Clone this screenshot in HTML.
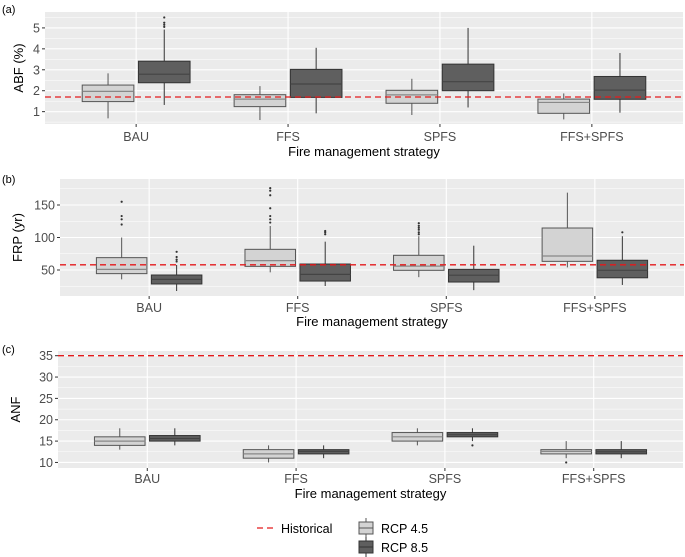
<!DOCTYPE html>
<html><head><meta charset="utf-8"><style>
html,body{margin:0;padding:0;background:#fff;}
svg{display:block;font-family:"Liberation Sans",sans-serif;}
</style></head><body>
<svg id="chart" width="685" height="557" viewBox="0 0 685 557" xmlns="http://www.w3.org/2000/svg"></svg>
<script>
const categories = ["BAU","FFS","SPFS","FFS+SPFS"];
const scenarios = ["RCP 4.5","RCP 8.5"];
// [low whisker, q1, median, q3, high whisker] per category, per scenario
const abf45 = [[0.68,1.48,1.97,2.27,2.83],[0.6,1.24,1.6,1.81,2.22],[0.84,1.4,1.8,2.02,2.57],[0.63,0.92,1.44,1.6,1.87]];
const abf85 = [[1.32,2.38,2.79,3.41,4.92],[0.92,1.68,2.32,3.02,4.05],[1.2,2.0,2.43,3.27,5.0],[0.95,1.59,2.03,2.68,3.8]];
const abfOut45 = [[],[],[],[]];
const abfOut85 = [[5.05,5.15,5.25,5.5],[],[],[]];
const abfHist = 1.7;
const abfTicks = [1,2,3,4,5];
const frp45 = [[35.6,44.4,51,69,100],[46.4,55.6,64.4,81.8,117.7],[39,49.5,56,72.6,102],[54,63.3,71.5,114.6,169]];
const frp85 = [[17.7,28.5,35.6,42.3,57.7],[25.4,33,43.3,59.2,93.6],[19,31.5,42,51,87.4],[27,38,49.5,65,102]];
const frpOut45 = [[120,128,133,155],[123,128,133,145,165,172,176],[105,108,112,115,118,122],[]];
const frpOut85 = [[63,66,70,78],[105,108,110],[],[108]];
const frpHist = 58;
const frpTicks = [50,100,150];
const anf45 = [[13,14,15,16,18],[10,11,12,13,14],[14,15,16,17,18],[11,12,12.6,13,15]];
const anf85 = [[14,15,15.6,16.3,18],[11,12,12.6,13,14],[15,16,16.5,17,18],[11,12,12.5,13,15]];
const anfOut45 = [[],[],[],[10]];
const anfOut85 = [[],[],[14],[]];
const anfHist = 35;
const anfTicks = [10,15,20,25,30,35];

const NS="http://www.w3.org/2000/svg";
const svg=document.getElementById('chart');
function mk(tag,attrs,parent){const e=document.createElementNS(NS,tag);for(const k in attrs)e.setAttribute(k,attrs[k]);(parent||svg).appendChild(e);return e;}

const panels=[
 {id:'a',label:'(a)',ly:13,title:'ABF (%)',tx:23,x0:45,x1:683,y0:12,y1:124,vmin:0.41,vmax:5.76,ticks:abfTicks,minor:0.5,
  d45:abf45,d85:abf85,o45:abfOut45,o85:abfOut85,hist:abfHist,catY:141,titleY:156},
 {id:'b',label:'(b)',ly:183,title:'FRP (yr)',tx:22,x0:60,x1:684,y0:179,y1:296,vmin:10,vmax:190,ticks:frpTicks,minor:25,
  d45:frp45,d85:frp85,o45:frpOut45,o85:frpOut85,hist:frpHist,catY:312,titleY:326},
 {id:'c',label:'(c)',ly:353,title:'ANF',tx:20,x0:58,x1:683,y0:351,y1:468,vmin:8.7,vmax:36.1,ticks:anfTicks,minor:2.5,
  d45:anf45,d85:anf85,o45:anfOut45,o85:anfOut85,hist:anfHist,catY:483,titleY:498}
];

panels.forEach(p=>{
  const g=mk('g',{});
  
  
  const W=p.x1-p.x0;
  const step=W/4.2;
  const xc=i=>p.x0+step*(i+0.6);
  const ys=v=>p.y1-(v-p.vmin)/(p.vmax-p.vmin)*(p.y1-p.y0);
  const bg=mk('rect',{x:p.x0,y:p.y0,width:W,height:p.y1-p.y0,fill:'#ebebeb'},g);
  
  
  for(let v=Math.ceil(p.vmin/p.minor)*p.minor; v<=p.vmax; v+=p.minor){
    const major=p.ticks.some(t=>Math.abs(t-v)<1e-9);
    const y=ys(v);
    const ln=mk('line',{x1:p.x0,x2:p.x1,y1:y,y2:y,stroke:'#fff','stroke-width':major?1.1:0.5},g);
    
    
  }
  categories.forEach((c,i)=>{
    const ln=mk('line',{x1:xc(i),x2:xc(i),y1:p.y0,y2:p.y1,stroke:'#fff','stroke-width':1.1},g);
    
    
    const tk=mk('line',{x1:xc(i),x2:xc(i),y1:p.y1,y2:p.y1+3,stroke:'#333','stroke-width':1},g);
    
    
    const t=mk('text',{x:xc(i),y:p.catY,'text-anchor':'middle','font-size':12.5,fill:'#4d4d4d'},g);
    t.textContent=c;
    
    
  });
  p.ticks.forEach(v=>{
    const y=ys(v);
    const tk=mk('line',{x1:p.x0-3,x2:p.x0,y1:y,y2:y,stroke:'#333','stroke-width':1},g);
    
    
    const t=mk('text',{x:p.x0-5,y:y+4.5,'text-anchor':'end','font-size':12.5,fill:'#4d4d4d'},g);
    t.textContent=v;
    
    
  });
  const bw=step*0.34, off=step*0.185;
  [[p.d45,p.o45,'#d3d3d3','#555','#888','rcp45'],[p.d85,p.o85,'#5f5f5f','#333','#444','rcp85']].forEach(([data,outs,fill,stroke,med,key],s)=>{
    data.forEach((d,i)=>{
      const cx=xc(i)+(s===0?-off:off);
      const bx=mk('g',{},g);
      
      
      mk('line',{x1:cx,x2:cx,y1:ys(d[0]),y2:ys(d[4]),stroke:stroke,'stroke-width':1},bx);
      mk('rect',{x:cx-bw/2,y:ys(d[3]),width:bw,height:ys(d[1])-ys(d[3]),fill:fill,stroke:stroke,'stroke-width':1},bx);
      mk('line',{x1:cx-bw/2,x2:cx+bw/2,y1:ys(d[2]),y2:ys(d[2]),stroke:med,'stroke-width':1.2},bx);
      outs[i].forEach(v=>{
        const pt=mk('circle',{cx:cx,cy:ys(v),r:1.1,fill:'#333'},bx);
        
        
      });
    });
  });
  const hl=mk('line',{x1:p.x0,x2:p.x1,y1:ys(p.hist),y2:ys(p.hist),stroke:'#e41a1c','stroke-width':1.3,'stroke-dasharray':'6,4'},g);
  
  
  const pl=mk('text',{x:2,y:p.ly,'font-size':11,fill:'#000'},g);
  pl.textContent=p.label;
  
  
  const yt=mk('text',{x:p.tx,y:(p.y0+p.y1)/2,'text-anchor':'middle','font-size':13,fill:'#000',transform:`rotate(-90 ${p.tx} ${(p.y0+p.y1)/2})`},g);
  yt.textContent=p.title;
  
  
  const xt=mk('text',{x:(p.x0+p.x1)/2,y:p.titleY,'text-anchor':'middle','font-size':13,fill:'#000'},g);
  xt.textContent='Fire management strategy';
  
  
});

const lg=mk('g',{});


const ld=mk('line',{x1:257,x2:276,y1:528,y2:528,stroke:'#e41a1c','stroke-width':1.3,'stroke-dasharray':'6,4'},lg);


const lt=mk('text',{x:281,y:533,'font-size':12.5,fill:'#000'},lg);
lt.textContent='Historical';


[['#d3d3d3','#555','RCP 4.5',528],['#5f5f5f','#333','RCP 8.5',547]].forEach(([f,s,t,y])=>{
  const k=mk('g',{},lg);
  
  
  mk('line',{x1:366,x2:366,y1:y-10,y2:y+10,stroke:s},k);
  mk('rect',{x:359,y:y-6,width:14,height:12,fill:f,stroke:s},k);
  mk('line',{x1:359,x2:373,y1:y,y2:y,stroke:s},k);
  const tx=mk('text',{x:381,y:y+5,'font-size':12.5,fill:'#000'},k);
  tx.textContent=t;
});
</script>
</body></html>
